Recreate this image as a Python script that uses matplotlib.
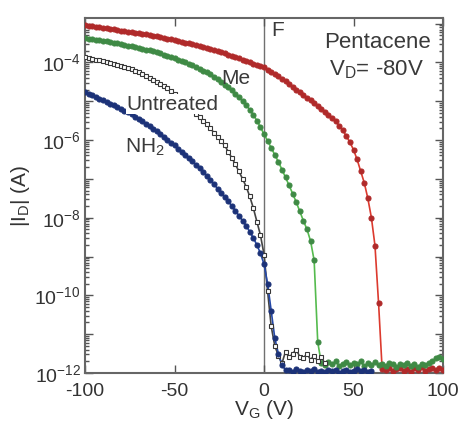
"""
Pentacene transfer curves |I_D| vs V_G at V_D = -80 V for different
surface treatments (F, Me, untreated, NH2).
"""

import numpy as np
import matplotlib
matplotlib.use("Agg")
import matplotlib.pyplot as plt
from matplotlib.ticker import FixedLocator, LogLocator, NullFormatter

plt.rcParams["font.family"] = ["Liberation Sans", "DejaVu Sans"]
plt.rcParams["mathtext.fontset"] = "custom"
plt.rcParams["mathtext.rm"] = "Liberation Sans"
plt.rcParams["mathtext.default"] = "regular"

# ── Data: log10(|I_D| / A), V_G from -100 V in 2 V steps ─────────────────────
f_log = [
    -3.05, -3.06, -3.07, -3.08, -3.10, -3.11, -3.12, -3.14, -3.15, -3.16,
    -3.18, -3.19, -3.21, -3.22, -3.24, -3.25, -3.27, -3.28, -3.30, -3.31,
    -3.33, -3.35, -3.37, -3.39, -3.41, -3.43, -3.45, -3.47, -3.49, -3.51,
    -3.53, -3.56, -3.58, -3.61, -3.63, -3.66, -3.69, -3.71, -3.74, -3.77,
    -3.80, -3.83, -3.86, -3.89, -3.93, -3.96, -3.99, -4.03, -4.06, -4.10,
    -4.13, -4.19, -4.24, -4.30, -4.36, -4.42, -4.49, -4.56, -4.63, -4.70,
    -4.77, -4.84, -4.91, -4.98, -5.05, -5.12, -5.19, -5.27, -5.35, -5.43,
    -5.52, -5.63, -5.75, -5.90, -6.06, -6.25, -6.50, -6.80, -7.10, -7.50,
    -8.00, -8.72, -10.20, -11.90, -11.93, -11.88, -11.95, -11.90, -11.86, -11.94,
    -11.90, -11.97, -11.88, -11.92, -11.85, -11.95, -11.90, -11.87, -11.93, -11.88,
    -11.92,
]

me_log = [
    -3.38, -3.39, -3.40, -3.42, -3.43, -3.45, -3.46, -3.48, -3.49, -3.51,
    -3.53, -3.55, -3.57, -3.59, -3.61, -3.63, -3.65, -3.67, -3.69, -3.72,
    -3.74, -3.77, -3.80, -3.83, -3.86, -3.90, -3.93, -3.96, -4.00, -4.04,
    -4.08, -4.12, -4.16, -4.21, -4.26, -4.31, -4.37, -4.43, -4.50, -4.57,
    -4.64, -4.72, -4.81, -4.90, -5.00, -5.10, -5.22, -5.35, -5.50, -5.67,
    -5.85, -6.02, -6.20, -6.38, -6.56, -6.76, -6.96, -7.17, -7.38, -7.60,
    -7.84, -8.08, -8.30, -8.60, -9.10, -11.20, -11.75, -11.80, -11.72, -11.78,
    -11.70, -11.82, -11.76, -11.72, -11.80, -11.74, -11.78, -11.70, -11.83, -11.75,
    -11.79, -11.72, -11.80, -11.76, -11.82, -11.74, -11.78, -11.85, -11.76, -11.80,
    -11.73, -11.82, -11.78, -11.84, -11.76, -11.80, -11.74, -11.70, -11.62, -11.58,
    -11.65,
]

# untreated stops at +34 V
un_log = [
    -3.87, -3.89, -3.91, -3.93, -3.95, -3.97, -3.99, -4.01, -4.03, -4.06,
    -4.09, -4.12, -4.15, -4.18, -4.22, -4.26, -4.30, -4.35, -4.40, -4.45,
    -4.50, -4.55, -4.61, -4.67, -4.74, -4.81, -4.89, -4.97, -5.05, -5.14,
    -5.23, -5.32, -5.41, -5.50, -5.60, -5.70, -5.81, -5.92, -6.03, -6.14,
    -6.30, -6.46, -6.63, -6.81, -7.00, -7.20, -7.45, -7.75, -8.10, -8.45,
    -8.95, -9.90, -10.80, -11.30, -11.55, -11.75, -11.45, -11.60, -11.50, -11.40,
    -11.58, -11.62, -11.50, -11.66, -11.55, -11.70, -11.60, -11.75,
]

# NH2 stops at +60 V
nh2_log = [
    -4.77, -4.81, -4.85, -4.89, -4.94, -4.98, -5.02, -5.06, -5.11, -5.15,
    -5.20, -5.24, -5.29, -5.34, -5.40, -5.46, -5.52, -5.58, -5.64, -5.71,
    -5.78, -5.85, -5.92, -5.99, -6.07, -6.14, -6.22, -6.30, -6.38, -6.46,
    -6.55, -6.64, -6.73, -6.82, -6.92, -7.03, -7.14, -7.25, -7.36, -7.47,
    -7.58, -7.70, -7.82, -7.95, -8.08, -8.21, -8.36, -8.52, -8.70, -8.92,
    -9.20, -9.70, -10.40, -11.10, -11.50, -11.80, -11.92, -11.93, -11.97, -11.90,
    -11.95, -11.98, -11.92, -11.96, -11.90, -11.97, -11.94, -11.98, -11.92, -11.96,
    -11.93, -11.99, -11.95, -11.91, -11.97, -11.94, -11.90, -11.96, -11.93, -11.98,
    -11.95,
]

V_START, V_STEP = -100, 2
x_ticks = [-100, -50, 0, 50, 100]
y_decades = list(range(-12, -2))
y_label_decades = [-12, -10, -8, -6, -4]

# ── Styles ───────────────────────────────────────────────────────────────────
series = [
    # (values, line colour, marker colour, marker, open?)
    (f_log,   "#dc3a2e", "#b02a2a", "o", False),
    (me_log,  "#55bb4e", "#3f8a45", "o", False),
    (un_log,  "#444444", "#383838", "s", True),
    (nh2_log, "#2448a8", "#1c3278", "o", False),
]

fig, ax = plt.subplots(figsize=(4.6, 4.21), dpi=100)
fig.subplots_adjust(left=0.185, right=0.963, bottom=0.114, top=0.957)

ax.axvline(0, color="#707070", lw=1.0, zorder=1)

for vals, lc, mc, mk, hollow in series:
    v = V_START + V_STEP * np.arange(len(vals))
    i = 10.0 ** np.array(vals)
    ax.plot(v, i, color=lc, lw=1.2, zorder=2)
    ax.plot(v, i, ls="none", marker=mk, ms=3.0 if hollow else 3.6,
            mfc="white" if hollow else mc, mec=mc, mew=0.8, zorder=3)

ax.set_yscale("log")
ax.set_xlim(-100, 100)
ax.set_ylim(1e-12, 10 ** -2.86)

ax.set_xticks(x_ticks)
ax.set_xticklabels([str(t) for t in x_ticks])
ax.yaxis.set_major_locator(FixedLocator([10.0 ** d for d in y_decades]))
ax.set_yticklabels(
    [f"$10^{{{d}}}$" if d in y_label_decades else "" for d in y_decades])
ax.yaxis.set_minor_locator(LogLocator(base=10, subs=np.arange(2, 10), numticks=30))
ax.yaxis.set_minor_formatter(NullFormatter())

ax.tick_params(which="both", direction="in", top=True, right=True,
               colors="#555555", labelcolor="#333333", labelsize=14, width=1.0)
ax.tick_params(axis="y", which="major", length=6, pad=3)
ax.tick_params(axis="x", which="major", length=6, pad=7)
ax.tick_params(which="minor", length=3)
for sp in ax.spines.values():
    sp.set_color("#666666")
    sp.set_linewidth(1.5)

ax.set_xlabel("V$_G$ (V)", fontsize=15, color="#333333", labelpad=-1)
ax.set_ylabel("|I$_D$| (A)", fontsize=15, color="#333333", labelpad=2)

# ── Annotations ──────────────────────────────────────────────────────────────
txt = dict(fontsize=15, color="#3a3a3a", va="center")
ax.text(3.9, 10 ** -3.17, "F", ha="left", **txt)
ax.text(63.5, 10 ** -3.48, "Pentacene", ha="center", fontsize=16,
        color="#3a3a3a", va="center")
ax.text(63, 10 ** -4.2, "V$_D$= -80V", ha="center", fontsize=16,
        color="#3a3a3a", va="center")
ax.text(-16, 10 ** -4.41, "Me", ha="center", **txt)
ax.text(-51, 10 ** -5.08, "Untreated", ha="center", zorder=4,
        bbox=dict(fc="white", ec="none", pad=0.5), **txt)
ax.text(-66.5, 10 ** -6.19, "NH$_2$", ha="center", **txt)

fig.savefig("out.png", dpi=100)
